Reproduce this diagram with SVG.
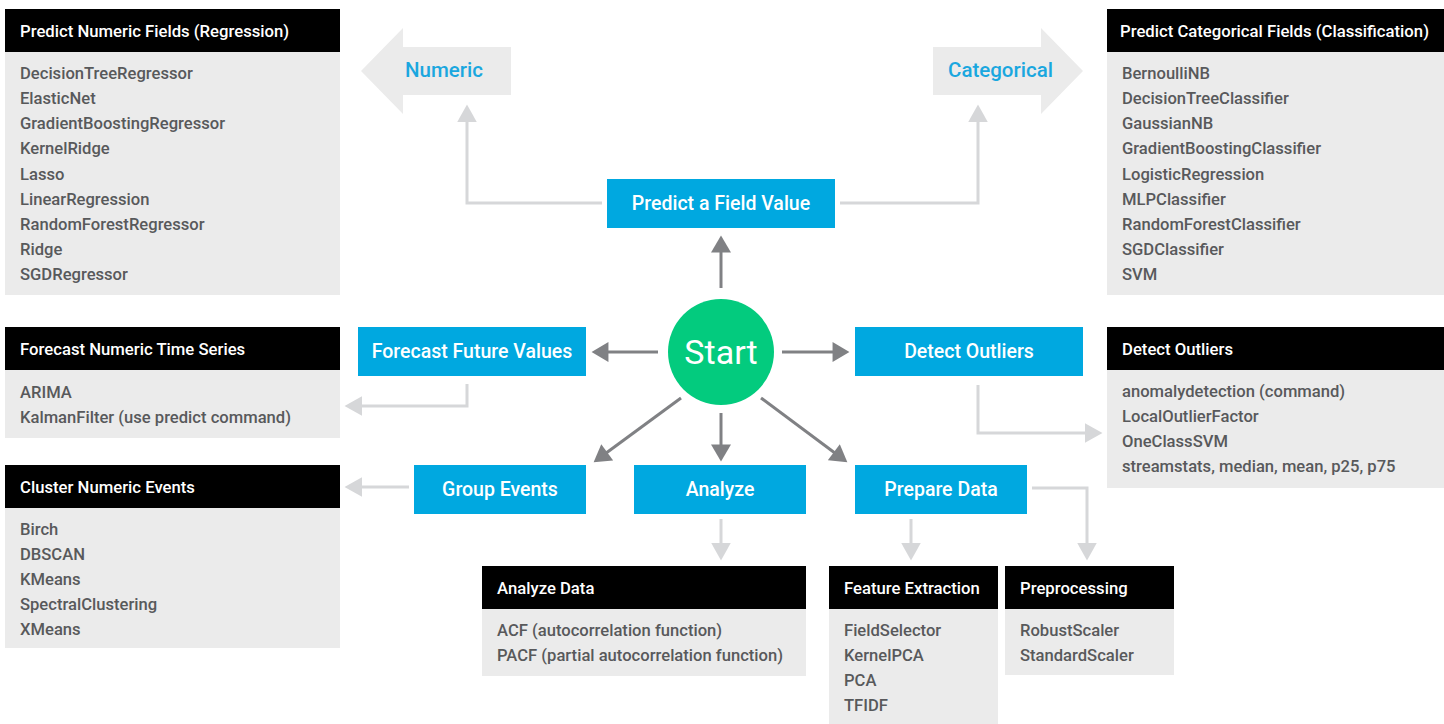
<svg xmlns="http://www.w3.org/2000/svg" width="1444" height="724" viewBox="0 0 1444 724">
<style>
  .hdr{fill:#000}
  .body{fill:#ebebeb}
  .ht{font-family:Roboto,"Liberation Sans",sans-serif;font-weight:500;font-size:16.7px;fill:#fff}
  .it{font-family:Roboto,"Liberation Sans",sans-serif;font-weight:500;font-size:16.6px;fill:#58595b}
  .box{fill:#00a8e0}
  .bt{font-family:Roboto,"Liberation Sans",sans-serif;font-weight:500;font-size:19.5px;fill:#fff;text-anchor:middle}
  .big{fill:#ebebeb}
  .bigt{font-family:Roboto,"Liberation Sans",sans-serif;font-weight:500;font-size:20.5px;fill:#1aa7df}
  .dk{stroke:#808184;stroke-width:3;fill:none}
  .lt{stroke:#d6d7d9;stroke-width:3;fill:none}
</style>
<defs>
  <marker id="ad" markerUnits="userSpaceOnUse" markerWidth="18" markerHeight="20" viewBox="0 0 16 19" refX="8" refY="9.5" orient="auto">
    <path d="M0,0 L16,9.5 L0,19 z" fill="#808184"/>
  </marker>
  <marker id="al" markerUnits="userSpaceOnUse" markerWidth="18" markerHeight="20" viewBox="0 0 17 19" refX="8" refY="9.5" orient="auto">
    <path d="M0,0 L17,9.5 L0,19 z" fill="#d6d7d9"/>
  </marker>
</defs>

<g id="connectors">
  <line class="dk" x1="721" y1="288" x2="721" y2="244" marker-end="url(#ad)"/>
  <line class="dk" x1="658" y1="352" x2="600" y2="352" marker-end="url(#ad)"/>
  <line class="dk" x1="782" y1="352" x2="841" y2="352" marker-end="url(#ad)"/>
  <line class="dk" x1="681" y1="398" x2="600.4" y2="457.3" marker-end="url(#ad)"/>
  <line class="dk" x1="721" y1="413" x2="721" y2="453" marker-end="url(#ad)"/>
  <line class="dk" x1="761" y1="398" x2="840.6" y2="457.2" marker-end="url(#ad)"/>
  <polyline class="lt" points="602,203 467,203 467,114" marker-end="url(#al)"/>
  <polyline class="lt" points="840,203 978,203 978,114" marker-end="url(#al)"/>
  <polyline class="lt" points="467,384 467,406 354,406" marker-end="url(#al)"/>
  <polyline class="lt" points="978,385 978,433 1093,433" marker-end="url(#al)"/>
  <line class="lt" x1="409" y1="487" x2="354" y2="487" marker-end="url(#al)"/>
  <line class="lt" x1="721" y1="519" x2="721" y2="551" marker-end="url(#al)"/>
  <line class="lt" x1="911" y1="519" x2="911" y2="551" marker-end="url(#al)"/>
  <polyline class="lt" points="1032,488 1087,488 1087,551" marker-end="url(#al)"/>
</g>

<g id="numeric-arrow">
  <polygon class="big" points="361,71 403,28 403,47 511,47 511,95 403,95 403,114"/>
  <text class="bigt" x="405" y="77">Numeric</text>
</g>
<g id="categorical-arrow">
  <polygon class="big" points="933,47 1041,47 1041,28 1083,71 1041,114 1041,95 933,95"/>
  <text class="bigt" x="948" y="77">Categorical</text>
</g>

<g id="start">
  <circle cx="721" cy="352" r="53" fill="#03cb7e"/>
  <text x="721" y="364" font-family="Roboto,'Liberation Sans',sans-serif" font-size="34" fill="#fff" text-anchor="middle">Start</text>
</g>

<g id="predict">
  <rect class="box" x="607" y="179" width="228" height="49"/>
  <text class="bt" x="721" y="210">Predict a Field Value</text>
</g>
<g id="forecast">
  <rect class="box" x="358" y="327" width="228" height="49"/>
  <text class="bt" x="472" y="358">Forecast Future Values</text>
</g>
<g id="detect">
  <rect class="box" x="855" y="327" width="228" height="49"/>
  <text class="bt" x="969" y="358">Detect Outliers</text>
</g>
<g id="group">
  <rect class="box" x="414" y="465" width="172" height="49"/>
  <text class="bt" x="500" y="496">Group Events</text>
</g>
<g id="analyze">
  <rect class="box" x="634" y="465" width="172" height="49"/>
  <text class="bt" x="720" y="496">Analyze</text>
</g>
<g id="prepare">
  <rect class="box" x="855" y="465" width="172" height="49"/>
  <text class="bt" x="941" y="496">Prepare Data</text>
</g>

<g id="panel-regression">
  <rect class="body" x="5" y="52" width="335" height="243"/>
  <rect class="hdr" x="5" y="9" width="335" height="43"/>
  <text class="ht" x="20" y="37">Predict Numeric Fields (Regression)</text>
  <text class="it" x="20" y="79">DecisionTreeRegressor</text>
  <text class="it" x="20" y="104">ElasticNet</text>
  <text class="it" x="20" y="129">GradientBoostingRegressor</text>
  <text class="it" x="20" y="154">KernelRidge</text>
  <text class="it" x="20" y="180">Lasso</text>
  <text class="it" x="20" y="205">LinearRegression</text>
  <text class="it" x="20" y="230">RandomForestRegressor</text>
  <text class="it" x="20" y="255">Ridge</text>
  <text class="it" x="20" y="280">SGDRegressor</text>
</g>

<g id="panel-classification">
  <rect class="body" x="1107" y="52" width="337" height="243"/>
  <rect class="hdr" x="1107" y="9" width="337" height="43"/>
  <text class="ht" x="1120" y="37">Predict Categorical Fields (Classification)</text>
  <text class="it" x="1122" y="79">BernoulliNB</text>
  <text class="it" x="1122" y="104">DecisionTreeClassifier</text>
  <text class="it" x="1122" y="129">GaussianNB</text>
  <text class="it" x="1122" y="154">GradientBoostingClassifier</text>
  <text class="it" x="1122" y="180">LogisticRegression</text>
  <text class="it" x="1122" y="205">MLPClassifier</text>
  <text class="it" x="1122" y="230">RandomForestClassifier</text>
  <text class="it" x="1122" y="255">SGDClassifier</text>
  <text class="it" x="1122" y="280">SVM</text>
</g>

<g id="panel-timeseries">
  <rect class="body" x="5" y="370" width="335" height="68"/>
  <rect class="hdr" x="5" y="327" width="335" height="43"/>
  <text class="ht" x="20" y="355">Forecast Numeric Time Series</text>
  <text class="it" x="20" y="398">ARIMA</text>
  <text class="it" x="20" y="423">KalmanFilter (use predict command)</text>
</g>

<g id="panel-outliers">
  <rect class="body" x="1107" y="370" width="337" height="118"/>
  <rect class="hdr" x="1107" y="327" width="337" height="43"/>
  <text class="ht" x="1122" y="355">Detect Outliers</text>
  <text class="it" x="1122" y="397">anomalydetection (command)</text>
  <text class="it" x="1122" y="422">LocalOutlierFactor</text>
  <text class="it" x="1122" y="447">OneClassSVM</text>
  <text class="it" x="1122" y="472">streamstats, median, mean, p25, p75</text>
</g>

<g id="panel-cluster">
  <rect class="body" x="5" y="508" width="335" height="140"/>
  <rect class="hdr" x="5" y="465" width="335" height="43"/>
  <text class="ht" x="20" y="493">Cluster Numeric Events</text>
  <text class="it" x="20" y="535">Birch</text>
  <text class="it" x="20" y="560">DBSCAN</text>
  <text class="it" x="20" y="585">KMeans</text>
  <text class="it" x="20" y="610">SpectralClustering</text>
  <text class="it" x="20" y="635">XMeans</text>
</g>

<g id="panel-analyze">
  <rect class="body" x="482" y="609" width="324" height="67"/>
  <rect class="hdr" x="482" y="566" width="324" height="43"/>
  <text class="ht" x="497" y="594">Analyze Data</text>
  <text class="it" x="497" y="636">ACF (autocorrelation function)</text>
  <text class="it" x="497" y="661">PACF (partial autocorrelation function)</text>
</g>

<g id="panel-feature">
  <rect class="body" x="829" y="609" width="169" height="115"/>
  <rect class="hdr" x="829" y="566" width="169" height="43"/>
  <text class="ht" x="844" y="594">Feature Extraction</text>
  <text class="it" x="844" y="636">FieldSelector</text>
  <text class="it" x="844" y="661">KernelPCA</text>
  <text class="it" x="844" y="686">PCA</text>
  <text class="it" x="844" y="711">TFIDF</text>
</g>

<g id="panel-preprocessing">
  <rect class="body" x="1005" y="609" width="169" height="66"/>
  <rect class="hdr" x="1005" y="566" width="169" height="43"/>
  <text class="ht" x="1020" y="594">Preprocessing</text>
  <text class="it" x="1020" y="636">RobustScaler</text>
  <text class="it" x="1020" y="661">StandardScaler</text>
</g>
</svg>
